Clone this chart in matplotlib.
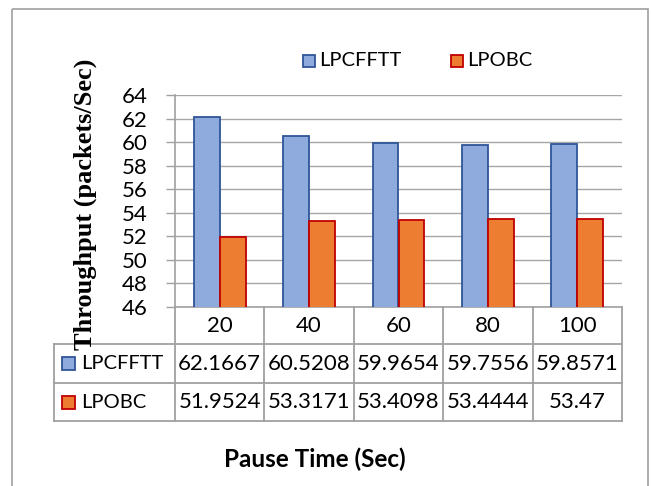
import numpy as np
import matplotlib.pyplot as plt
from matplotlib.patches import Rectangle

plt.rcParams['font.family'] = ['Lato', 'DejaVu Sans']

# data
pause_time = ['20', '40', '60', '80', '100']
series = ['LPCFFTT', 'LPOBC']
lpcfftt = [62.1667, 60.5208, 59.9654, 59.7556, 59.8571]
lpobc = [51.9524, 53.3171, 53.4098, 53.4444, 53.47]
table_text = [['62.1667', '60.5208', '59.9654', '59.7556', '59.8571'],
              ['51.9524', '53.3171', '53.4098', '53.4444', '53.47']]
yticks = [46, 48, 50, 52, 54, 56, 58, 60, 62, 64]

fills = ['#8faadc', '#ed7d31']
edges = ['#2f5597', '#c00000']
gray = '#a0a0a0'

W, H = 652, 486
fig = plt.figure(figsize=(W / 100, H / 100), dpi=100)

# plot area in pixels
L, R, T, B = 175, 622, 95, 307
ax = fig.add_axes([L / W, 1 - B / H, (R - L) / W, (B - T) / H])
x = np.arange(len(pause_time))
bw = 0.29
ax.bar(x - bw / 2, lpcfftt, bw, color=fills[0], edgecolor=edges[0], lw=1.3, zorder=3)
ax.bar(x + bw / 2, lpobc, bw, color=fills[1], edgecolor=edges[1], lw=1.3, zorder=3)
ax.set_xlim(-0.5, len(x) - 0.5)
ax.set_ylim(46, 64)
ax.set_yticks(yticks)
ax.set_xticks([])
ax.yaxis.grid(True, color='#a6a6a6', lw=1)
ax.set_axisbelow(True)
for s in ['top', 'right']:
    ax.spines[s].set_visible(False)
for s in ['left', 'bottom']:
    ax.spines[s].set_color(gray)
    ax.spines[s].set_linewidth(1.2)
ax.tick_params(axis='y', length=6.5, width=1, color=gray, pad=13, labelsize=16)

# overlay in pixel coords for frame, legend, data table
ov = fig.add_axes([0, 0, 1, 1], facecolor='none')
ov.set_xlim(0, W)
ov.set_ylim(H, 0)
ov.axis('off')

ov.add_patch(Rectangle((12, 9), 648 - 12, 500, fill=False, ec=gray, lw=1.2))

# legend
leg_x = [303, 451]
for i, name in enumerate(series):
    ov.add_patch(Rectangle((leg_x[i], 55), 12, 12, fc=fills[i], ec=edges[i], lw=1.3))
    ov.text(leg_x[i] + 16, 61, name, fontsize=14.5, va='center', ha='left')

# data table
ncol = len(pause_time)
col_edges = [L + (R - L) * i / ncol for i in range(ncol + 1)]
row_y = [307, 344, 383, 421]
tl = dict(color=gray, lw=1.3)
for cx in col_edges:
    ov.plot([cx, cx], [row_y[0], row_y[-1]], **tl)
ov.plot([54, 54], [row_y[1], row_y[-1]], **tl)
for ry in row_y[1:]:
    ov.plot([54, R], [ry, ry], **tl)

for j, lab in enumerate(pause_time):
    cx = (col_edges[j] + col_edges[j + 1]) / 2
    ov.text(cx, (row_y[0] + row_y[1]) / 2, lab, fontsize=16, ha='center', va='center')
for i, name in enumerate(series):
    cy = (row_y[i + 1] + row_y[i + 2]) / 2
    ov.add_patch(Rectangle((62, cy - 6.5), 13, 13, fc=fills[i], ec=edges[i], lw=1.3))
    ov.text(81, cy, name, fontsize=14.5, ha='left', va='center')
    for j, val in enumerate(table_text[i]):
        cx = (col_edges[j] + col_edges[j + 1]) / 2
        ov.text(cx, cy, val, fontsize=16, ha='center', va='center')

ov.text(315, 459, 'Pause Time (Sec)', fontsize=17.5, fontweight='bold', ha='center', va='center')
ov.text(85, 204, 'Throughput (packets/Sec)', fontsize=19, fontweight='bold',
        family=['Liberation Serif', 'DejaVu Serif'], rotation=90, ha='center', va='center')

fig.savefig('out.png', dpi=100)
